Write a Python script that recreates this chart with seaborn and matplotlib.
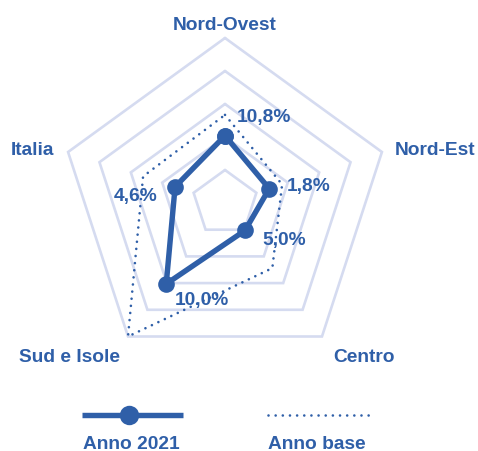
import numpy as np
import pandas as pd
import seaborn as sns
import matplotlib.pyplot as plt

# dati
aree = ["Nord-Ovest", "Nord-Est", "Centro", "Sud e Isole", "Italia"]
punteggio_2021 = [2.04, 1.41, 1.03, 3.03, 1.59]
punteggio_base = [2.67, 1.82, 2.44, 5.0, 2.61]
etichette_2021 = ["10,8%", "1,8%", "5,0%", "10,0%", "4,6%"]
livelli = [1, 2, 3, 4, 5]

blu = "#2f5fa8"
griglia = "#d5dbf0"

sns.set_theme(style="white")
plt.rcParams["font.family"] = ["Liberation Sans", "DejaVu Sans"]

# geometria (pixel)
cx, cy, unit = 225, 204, 33
angoli = np.deg2rad(90 - 72 * np.arange(len(aree)))


def polar_df(valori):
    v = np.append(valori, valori[0])
    a = np.append(angoli, angoli[0])
    return pd.DataFrame({"x": cx + v * unit * np.cos(a),
                         "y": cy - v * unit * np.sin(a)})


fig = plt.figure(figsize=(4.78, 4.52), dpi=100)
ax = fig.add_axes([0, 0, 1, 1])

for liv in livelli:
    g = polar_df(np.full(len(aree), liv))
    ax.plot(g["x"], g["y"], color=griglia, lw=1.9, zorder=1, solid_joinstyle="miter")

dotted = (0, (0.01, 2.7))
base = polar_df(np.array(punteggio_base))
sns.lineplot(data=base, x="x", y="y", sort=False, estimator=None, ax=ax, color=blu,
             lw=1.9, linestyle=dotted, dash_capstyle="round", zorder=2)

d21 = polar_df(np.array(punteggio_2021))
sns.lineplot(data=d21, x="x", y="y", sort=False, estimator=None, ax=ax, color=blu,
             lw=3.9, marker="o", markersize=12, markeredgewidth=0, zorder=3)

fs = 13.8

# etichette delle aree
off_aree = [(0, 16), (53.6, 5), (42, -18.5), (-58.5, -18.5), (-35.6, 5)]
for nome, ang, off in zip(aree, angoli, off_aree):
    ax.annotate(nome, (cx + 5 * unit * np.cos(ang), cy - 5 * unit * np.sin(ang)),
                xytext=off, textcoords="offset pixels", ha="center", va="center_baseline",
                fontsize=fs, fontweight="bold", color=blu)

# etichette valori
off_val = [(38.7, 20.7), (39.7, 5), (39.2, -7.3), (35.7, -13.3), (-39.4, -7.2)]
for lab, x, y, off in zip(etichette_2021, d21["x"], d21["y"], off_val):
    ax.annotate(lab, (x, y), xytext=off, textcoords="offset pixels", ha="center",
                va="center_baseline", fontsize=fs, fontweight="bold", color=blu)

# legenda
ax.plot([82, 183], [415.7, 415.7], color=blu, lw=3.9, solid_capstyle="butt")
ax.plot([129], [415.7], "o", color=blu, markersize=14, markeredgewidth=0)
ax.plot([268, 370], [415.7, 415.7], color=blu, lw=1.9, linestyle=dotted,
        dash_capstyle="round")
ax.text(131, 443, "Anno 2021", ha="center", va="center_baseline", fontsize=fs,
        fontweight="bold", color=blu)
ax.text(317, 443, "Anno base", ha="center", va="center_baseline", fontsize=fs,
        fontweight="bold", color=blu)

ax.set_xlim(0, 478)
ax.set_ylim(452, 0)
ax.axis("off")
if ax.get_legend():
    ax.get_legend().remove()

fig.savefig("out.png", dpi=100)
